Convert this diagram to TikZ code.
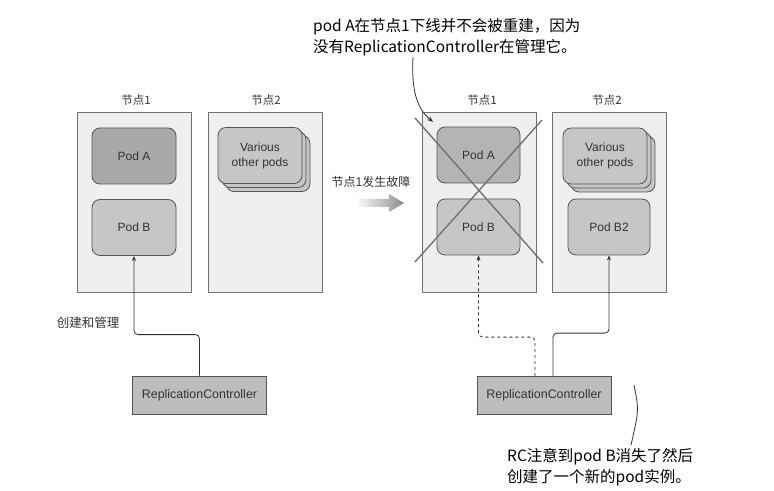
\documentclass[tikz,border=0pt]{standalone}
\usepackage{fontspec}
\setmainfont{Liberation Sans}
\newfontfamily\cjk{Noto Sans CJK SC}
\usetikzlibrary{arrows.meta,calc}
\definecolor{boxfill}{HTML}{EFEFEF}
\definecolor{boxline}{HTML}{707070}
\definecolor{podline}{HTML}{555555}
\definecolor{poddark}{HTML}{A9A9A9}
\definecolor{podmid}{HTML}{B4B4B4}
\definecolor{podlight}{HTML}{C6C6C6}
\definecolor{rcfill}{HTML}{BDBDBD}
\definecolor{txt}{HTML}{333333}
\begin{document}
\begin{tikzpicture}[x=1bp,y=-1bp,
  nodebox/.style={draw=boxline,fill=boxfill,line width=0.8bp,minimum width=114bp,minimum height=180bp,inner sep=0pt},
  podbox/.style={draw=podline,line width=0.8bp,rounded corners=8bp,minimum width=84bp,minimum height=56bp,inner sep=0pt,text=txt,font=\fontsize{12bp}{14bp}\selectfont,align=center},
  rcbox/.style={draw=podline,fill=rcfill,line width=0.8bp,minimum width=134bp,minimum height=38bp,inner sep=0pt,text=txt,font=\fontsize{12.4bp}{14bp}\selectfont},
  lbl/.style={text=txt,font=\cjk\fontsize{11.5bp}{13bp}\selectfont,inner sep=0pt},
  anno/.style={text=black,font=\cjk\fontsize{15.5bp}{21bp}\selectfont,inner sep=0pt,align=left},
  conn/.style={draw=black!80,line width=0.8bp,rounded corners=4bp,-{Stealth[length=5bp,width=4bp]}},
  crossline/.style={draw=black!55,line width=1.4bp}
]
\useasboundingbox (0,0) rectangle (774,491);

% ---------- left state ----------
\node[nodebox] (n1L) at (134,202) {};
\node[nodebox] (n2L) at (265,202) {};
\node[lbl] (l1L) at (136,100) {节点1};
\node[lbl] (l2L) at (266,100) {节点2};
\node[podbox,fill=poddark] (podAL) at (134,156) {Pod A};
\node[podbox,fill=podlight] (podBL) at (134,227.5) {Pod B};
\node[podbox,fill=podlight] (vL3) at (268,163.5) {};
\node[podbox,fill=podlight] (vL2) at (264,159.5) {};
\node[podbox,fill=podlight] (vL1) at (260,155.5) {Various\\[1bp]other pods};
\node[rcbox] (rcL) at (199.5,395) {ReplicationController};
\node[lbl,font=\cjk\fontsize{12.5bp}{14bp}\selectfont] (mgr) at (88,323) {创建和管理};
\draw[conn] (rcL.north) -- ++(0,-41) -| (podBL.south);

% ---------- transition ----------
\node[lbl,font=\cjk\fontsize{12bp}{14bp}\selectfont] (fail) at (371,182) {节点1发生故障};
\shade[left color=white,right color=black!45]
  (355,199) -- (389,199) -- (389,194) -- (404,203) -- (389,212) -- (389,207) -- (355,207) -- cycle;

% ---------- right state ----------
\node[nodebox] (n1R) at (479,202) {};
\node[nodebox] (n2R) at (609,202) {};
\node[lbl] (l1R) at (482,100) {节点1};
\node[lbl] (l2R) at (607,100) {节点2};
\node[podbox,fill=podmid,minimum width=83bp] (podAR) at (478.5,155) {Pod A};
\node[podbox,fill=podlight,minimum width=83bp] (podBR) at (478.5,227) {Pod B};
\node[podbox,fill=podlight] (vR3) at (613,164) {};
\node[podbox,fill=podlight] (vR2) at (609,160) {};
\node[podbox,fill=podlight] (vR1) at (605,156) {Various\\[1bp]other pods};
\node[podbox,fill=podlight,minimum width=82bp] (podB2) at (609,227) {Pod B2};
\draw[crossline] (415,118) -- (543,263);
\draw[crossline] (542,120) -- (415,262);
\node[rcbox] (rcR) at (544,395.5) {ReplicationController};
\draw[conn,dashed] ($(rcR.north)+(-9,0)$) -- ++(0,-39) -| (podBR.south);
\draw[conn] ($(rcR.north)+(9,0)$) -- ++(0,-43) -| (podB2.south);

% ---------- annotations ----------
\node[anno,anchor=west] (annoTop) at (313,37) {pod A在节点1下线并不会被重建，因为\\没有ReplicationController在管理它。};
\coordinate (aS) at (413,57);
\coordinate (aE) at (433,122);
\draw[draw=black!80,line width=0.8bp,-{Stealth[length=6bp,width=4.5bp]}] (aS) .. controls (411,95) and (419,110) .. (aE);

\node[anno,anchor=west] (annoBot) at (507,467.5) {RC注意到pod B消失了然后\\创建了一个新的pod实例。};
\coordinate (bS) at (634,385);
\coordinate (bE) at (631,445);
\draw[draw=black!80,line width=0.8bp] (bS) .. controls (639,410) .. (bE);
\end{tikzpicture}
\end{document}
